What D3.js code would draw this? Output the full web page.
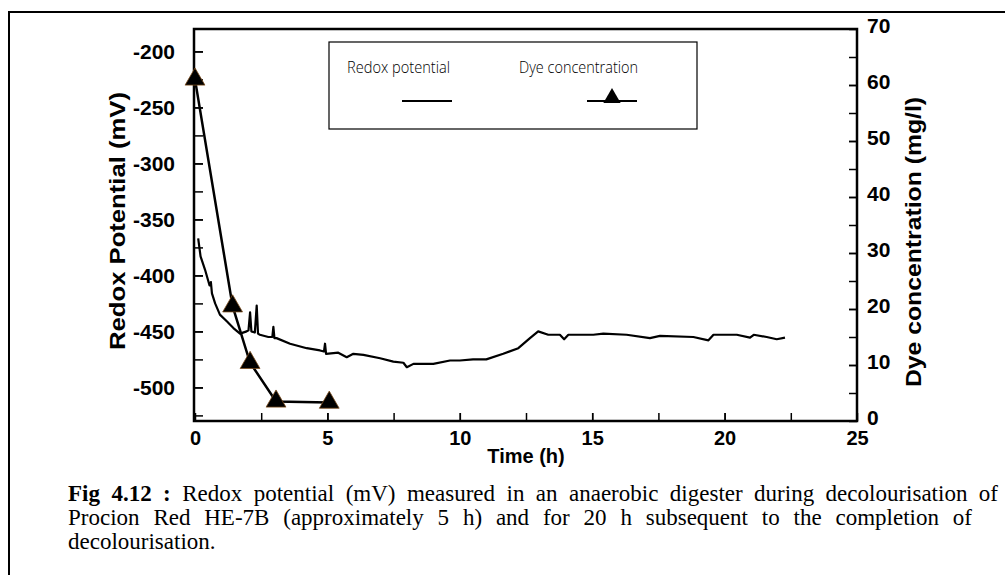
<!DOCTYPE html>
<html lang="en">
<head>
<meta charset="UTF-8">
<title>Redox potential</title>
<style>
  body { margin: 0; background: #fff; }
  svg { display: block; }
</style>
</head>
<body>
<script src="https://d3js.org/d3.v7.min.js"></script>
<script>
// redox potential trace (h, mV)
const redoxTime = [0.12, 0.21, 0.38, 0.55, 0.6, 0.64, 0.76, 0.94, 1.2, 1.45, 1.7, 1.95, 2.02, 2.08, 2.13, 2.26, 2.33, 2.38, 2.45, 2.77, 2.92, 2.96, 3.0, 3.08, 3.59, 4.22, 4.72, 4.87, 4.91, 4.95, 5.41, 5.73, 5.98, 6.36, 6.99, 7.49, 7.87, 8.0, 8.25, 9.0, 9.63, 10.0, 10.5, 11.0, 11.64, 12.21, 12.65, 12.96, 13.34, 13.78, 13.94, 14.1, 15.04, 15.42, 16.3, 17.18, 17.56, 18.82, 19.39, 19.58, 20.46, 20.96, 21.1, 21.59, 21.97, 22.28];
const redoxMv = [-367, -383, -395, -409, -406, -416, -425, -435, -441, -447, -452, -450, -449, -433, -450, -451, -427, -452, -453, -455, -455, -446, -456, -456, -461, -465, -467, -468, -461, -470, -469, -473, -470, -471, -474, -477, -478, -482, -479, -479, -476, -476, -475, -475, -470, -465, -456, -450, -453, -453, -457, -453, -453, -452, -453, -456, -454, -455, -458, -453, -453, -455.5, -453, -455, -457, -455.5];

// dye concentration (h, mg/l)
const dyeTime = [0, 1.42, 2.08, 3.06, 5.07];
const dyeConc = [61, 20.5, 10.4, 3.5, 3.3];

const xTicks = [0, 5, 10, 15, 20, 25];
const leftTicks = [-200, -250, -300, -350, -400, -450, -500];
const rightTicks = [0, 10, 20, 30, 40, 50, 60, 70];

const legendNames = ["Redox potential", "Dye concentration"];

const captionLines = [
  "Redox potential (mV) measured in an anaerobic digester during decolourisation of",
  "Procion Red HE-7B  (approximately 5 h) and for 20 h subsequent to the completion of",
  "decolourisation."
];

const W = 1005, H = 575;
const plot = { left: 194, right: 857, top: 29, bottom: 421 };
const sans = "'Liberation Sans', Arial, sans-serif";

const svg = d3.select("body").append("svg")
  .attr("width", W)
  .attr("height", H);

// outer frame (runs off the right and bottom)
svg.append("rect")
  .attr("x", 9).attr("y", 12)
  .attr("width", 1010).attr("height", 600)
  .attr("fill", "none").attr("stroke", "#000").attr("stroke-width", 2);

const x = d3.scaleLinear().domain([0, 25]).range([195, plot.right]);
const yL = d3.scaleLinear().domain([-530, -180]).range([plot.bottom, plot.top]);
const yR = d3.scaleLinear().domain([0, 70]).range([plot.bottom, plot.top]);

const styleAxis = (g, size) => {
  g.select(".domain").remove();
  g.selectAll(".tick line").attr("stroke-width", 1.5);
  g.selectAll("text")
    .attr("font-family", sans)
    .attr("font-weight", "bold")
    .attr("font-size", size)
    .attr("fill", "#000");
};
const plain = d => String(d);

// minor ticks
svg.append("g").attr("transform", `translate(${plot.left},0)`)
  .call(d3.axisLeft(yL).tickValues(d3.range(-525, -180, 25)).tickSize(-9).tickFormat(""))
  .call(g => styleAxis(g, 0));
svg.append("g").attr("transform", `translate(${plot.right},0)`)
  .call(d3.axisRight(yR).tickValues(d3.range(5, 70, 5)).tickSize(-8).tickFormat(""))
  .call(g => styleAxis(g, 0));
svg.append("g").attr("transform", `translate(0,${plot.bottom})`)
  .call(d3.axisBottom(x).tickValues(d3.range(2.5, 25, 2.5)).tickSize(-8).tickFormat(""))
  .call(g => styleAxis(g, 0));

// major ticks + labels
svg.append("g").attr("transform", `translate(${plot.left},0)`)
  .call(d3.axisLeft(yL).tickValues(leftTicks).tickSize(-9).tickPadding(19).tickFormat(plain))
  .call(g => styleAxis(g, 21));
svg.append("g").attr("transform", `translate(${plot.right},0)`)
  .call(d3.axisRight(yR).tickValues(rightTicks).tickSize(-8).tickPadding(10).tickFormat(plain))
  .call(g => styleAxis(g, 21))
  .call(g => g.selectAll("text").attr("dy", "0.15em"));
svg.append("g").attr("transform", `translate(0,${plot.bottom})`)
  .call(d3.axisBottom(x).tickValues(xTicks).tickSize(-8).tickPadding(10).tickFormat(plain))
  .call(g => styleAxis(g, 20));

// plot frame
svg.append("rect")
  .attr("x", plot.left).attr("y", plot.top)
  .attr("width", plot.right - plot.left).attr("height", plot.bottom - plot.top)
  .attr("fill", "none").attr("stroke", "#000").attr("stroke-width", 2.5);

// axis titles
svg.append("text")
  .attr("transform", "translate(117,221) rotate(-90)")
  .attr("text-anchor", "middle").attr("dominant-baseline", "central")
  .attr("font-family", sans).attr("font-weight", "bold").attr("font-size", 22)
  .attr("textLength", 258).attr("lengthAdjust", "spacingAndGlyphs")
  .text("Redox Potential (mV)");
svg.append("text")
  .attr("transform", "translate(913,242) rotate(-90)")
  .attr("text-anchor", "middle").attr("dominant-baseline", "central")
  .attr("font-family", sans).attr("font-weight", "bold").attr("font-size", 22)
  .attr("textLength", 290).attr("lengthAdjust", "spacingAndGlyphs")
  .text("Dye concentration (mg/l)");
svg.append("text")
  .attr("x", 526).attr("y", 456)
  .attr("text-anchor", "middle").attr("dominant-baseline", "central")
  .attr("font-family", sans).attr("font-weight", "bold").attr("font-size", 20)
  .text("Time (h)");

// redox line
const redox = redoxTime.map((t, i) => [t, redoxMv[i]]);
svg.append("path")
  .datum(redox)
  .attr("fill", "none").attr("stroke", "#000").attr("stroke-width", 2.2)
  .attr("stroke-linejoin", "round")
  .attr("d", d3.line().x(d => x(d[0])).y(d => yL(d[1])));

// dye line + triangles
const dye = dyeTime.map((t, i) => [t, dyeConc[i]]);
svg.append("path")
  .datum(dye)
  .attr("fill", "none").attr("stroke", "#000").attr("stroke-width", 2.5)
  .attr("d", d3.line().x(d => x(d[0])).y(d => yR(d[1])));

const tri = d3.symbol().type(d3.symbolTriangle).size(170);
svg.selectAll(".tri").data(dye).enter().append("path")
  .attr("class", "tri")
  .attr("transform", d => `translate(${x(d[0])},${yR(d[1])})`)
  .attr("d", tri)
  .attr("fill", "#000").attr("stroke", "#7a4a1a").attr("stroke-width", 0.8);

// legend
const lg = svg.append("g");
lg.append("rect")
  .attr("x", 329).attr("y", 42).attr("width", 368).attr("height", 87)
  .attr("fill", "#fff").attr("stroke", "#000").attr("stroke-width", 1.2);
const lgText = [[347, 103], [519, 119]];
legendNames.forEach((n, i) => {
  lg.append("text")
    .attr("x", lgText[i][0]).attr("y", 73)
    .attr("font-family", "'Open Sans', sans-serif").attr("font-size", 16)
    .attr("font-weight", 300)
    .attr("textLength", lgText[i][1]).attr("lengthAdjust", "spacingAndGlyphs")
    .text(n);
});
lg.append("line").attr("x1", 402).attr("x2", 452).attr("y1", 101).attr("y2", 101)
  .attr("stroke", "#000").attr("stroke-width", 2);
lg.append("line").attr("x1", 587).attr("x2", 637).attr("y1", 101).attr("y2", 101)
  .attr("stroke", "#000").attr("stroke-width", 2);
lg.append("path").attr("transform", "translate(612,98)")
  .attr("d", d3.symbol().type(d3.symbolTriangle).size(130))
  .attr("fill", "#000");

// caption, justified lines
const serif = "'Liberation Serif', 'Times New Roman', serif";
const capX = 68, capBase = [501, 525, 549], capRight = [998, 980, null];
captionLines.forEach((line, i) => {
  const t = svg.append("text")
    .attr("x", capX).attr("y", capBase[i])
    .attr("font-family", serif).attr("font-size", 23).attr("fill", "#000");
  if (i === 0) {
    t.append("tspan").attr("font-weight", "bold").text("Fig 4.12 :");
    t.append("tspan").text(" " + line);
  } else {
    t.text(line);
  }
  if (capRight[i]) {
    const full = (i === 0 ? "Fig 4.12 : " : "") + line;
    const spaces = (full.match(/ /g) || []).length;
    const len = t.node().getComputedTextLength();
    const extra = (capRight[i] - capX - len) / spaces;
    t.attr("word-spacing", extra);
  }
});
</script>
</body>
</html>
